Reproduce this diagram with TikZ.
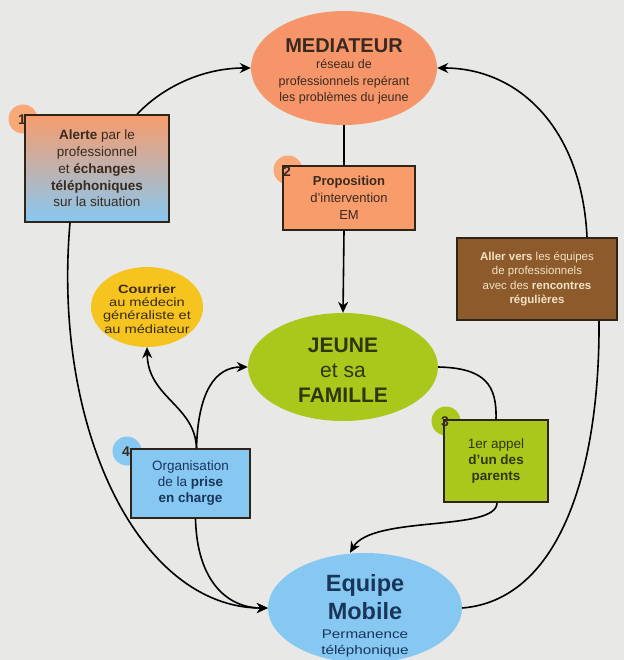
\documentclass[tikz,border=0pt]{standalone}
\usepackage{fontspec}
\setmainfont{Liberation Sans}
\newfontfamily\widefont[FakeStretch=1.22]{Liberation Sans}
\usetikzlibrary{shapes.geometric,arrows.meta}
\definecolor{bgc}{HTML}{E8E8E7}
\definecolor{orel}{HTML}{F7956A}
\definecolor{oreb}{HTML}{F89C6C}
\definecolor{orebadge}{HTML}{F9A878}
\definecolor{greenc}{HTML}{A9C81B}
\definecolor{bluec}{HTML}{87C8F2}
\definecolor{yellowc}{HTML}{F6C41E}
\definecolor{brownc}{HTML}{8C5A2B}
\definecolor{bordc}{HTML}{2E2418}
\definecolor{txtd}{HTML}{3A2A1E}
\definecolor{txtn}{HTML}{18355A}
\definecolor{txtg}{HTML}{2C380C}
\definecolor{txtc}{HTML}{F4E2C4}
\newcommand\myfs[2]{\fontsize{#1}{#2}\selectfont}
\tikzset{
  ell/.style={ellipse, inner sep=0pt, draw=none},
  boxc/.style={rectangle, draw=bordc, line width=1.6pt, inner sep=0pt, align=center},
  badge/.style={circle, minimum size=29pt, inner sep=0pt},
  digit/.style={inner sep=0pt, font=\myfs{14}{16}\bfseries, text=txtd},
  conn/.style={draw=black, line width=1.6pt},
  arr/.style={conn, -{Stealth[length=11pt,width=10pt]}},
  txt/.style={align=center, inner sep=0pt}
}
\begin{document}
\begin{tikzpicture}[x=1pt,y=-1pt]
\fill[bgc] (0,0) rectangle (624,660);
\useasboundingbox (0,0) rectangle (624,660);

% ellipses
\node[ell, fill=orel, minimum width=186pt, minimum height=114pt] (med) at (344,68) {};
\node[txt, text=txtd, font=\myfs{20}{22}\bfseries] (medt) at (344,46) {MEDIATEUR};
\node[txt, text=txtd, font=\myfs{12.5}{16.5}] (meds) at (344,82) {réseau de\\professionnels repérant\\les problèmes du jeune};

\node[ell, fill=greenc, minimum width=190pt, minimum height=108pt] (jeune) at (343,367) {};
\node[txt, text=txtg, font=\myfs{21}{25}\bfseries] (jeunet) at (343,370) {JEUNE\\{\mdseries et sa}\\FAMILLE};

\node[ell, fill=yellowc, minimum width=112pt, minimum height=80pt] (cour) at (147,307) {};
\node[txt, text=txtd, font=\widefont\myfs{12}{13.3}] (court) at (147,309) {\textbf{Courrier}\\au médecin\\généraliste et\\au médiateur};

\node[ell, fill=bluec, minimum width=194pt, minimum height=110pt] (eq) at (365,608) {};
\node[txt, text=txtn, font=\myfs{23.5}{28}\bfseries] (eqt) at (365,597.5) {Equipe\\Mobile};
\node[txt, text=txtn, font=\widefont\myfs{12.5}{16.5}] (eqs) at (365,643.5) {Permanence\\téléphonique};

% badges (behind boxes)
\node[badge, fill=orebadge] (n1) at (23,119) {};
\node[badge, fill=orebadge] (n2) at (288,170) {};
\node[badge, fill=greenc] (n3) at (446,421) {};
\node[badge, fill=bluec] (n4) at (127,451) {};

% boxes
\node[boxc, top color=oreb, bottom color=bluec, minimum width=144pt, minimum height=107pt,
  text=txtd, font=\myfs{13.5}{16.8}] (b1) at (97,168.5)
  {\textbf{Alerte} par le\\professionnel\\et \textbf{échanges}\\\textbf{téléphoniques}\\sur la situation};
\node[boxc, fill=oreb, minimum width=132pt, minimum height=64pt, text=txtd, font=\myfs{13}{17}] (b2) at (349,198)
  {\textbf{Proposition}\\d'intervention\\EM};
\node[boxc, fill=brownc, minimum width=160pt, minimum height=82pt, text=txtc, font=\myfs{11.5}{14.2}] (br) at (537,279)
  {\textbf{Aller vers} les équipes\\de professionnels\\avec des \textbf{rencontres}\\\textbf{régulières}};
\node[boxc, fill=greenc, minimum width=104pt, minimum height=82pt, text=txtg, font=\myfs{13.5}{16.3}] (b3) at (496,461)
  {1er appel\\\textbf{d'un des}\\\textbf{parents}};
\node[boxc, fill=bluec, minimum width=119pt, minimum height=69pt, text=txtn, font=\myfs{13.5}{16}] (b4) at (190.5,483.5)
  {Organisation\\de la \textbf{prise}\\\textbf{en charge}};

% badge digits on top
\node[digit] (d1) at (22,120) {1};
\node[digit] (d2) at (287,172) {2};
\node[digit] (d3) at (445,422) {3};
\node[digit] (d4) at (126,452) {4};

% connectors
\draw[arr] ([xshift=40pt]b1.north) .. controls (165,85) and (205,68) .. (med.west);
\draw[arr] ([xshift=-27pt]b1.south) .. controls (52,430) and (140,608) .. (eq.west);
\draw[conn] (med.south) -- (med.south |- b2.north);
\draw[arr] (med.south |- b2.south) -- (jeune.north);
\draw[conn] (eq.east) .. controls (560,600) and (600,470) .. ([xshift=62pt]br.south);
\draw[arr] ([xshift=50pt]br.north) .. controls (582,130) and (520,68) .. (med.east);
\draw[conn] (jeune.east) .. controls (485,368) and (497,385) .. (b3.north);
\draw[arr] ([xshift=1pt]b3.south) .. controls (497,532) and (372,515) .. ([xshift=-15pt]eq.north);
\draw[arr] ([xshift=6pt]b4.north) .. controls (195,405) and (148,398) .. (cour.south);
\draw[arr] ([xshift=6pt]b4.north) .. controls (198,392) and (215,367) .. (jeune.west);
\draw[arr] ([xshift=5pt]b4.south) .. controls (197,582) and (228,608) .. (eq.west);
\end{tikzpicture}
\end{document}
